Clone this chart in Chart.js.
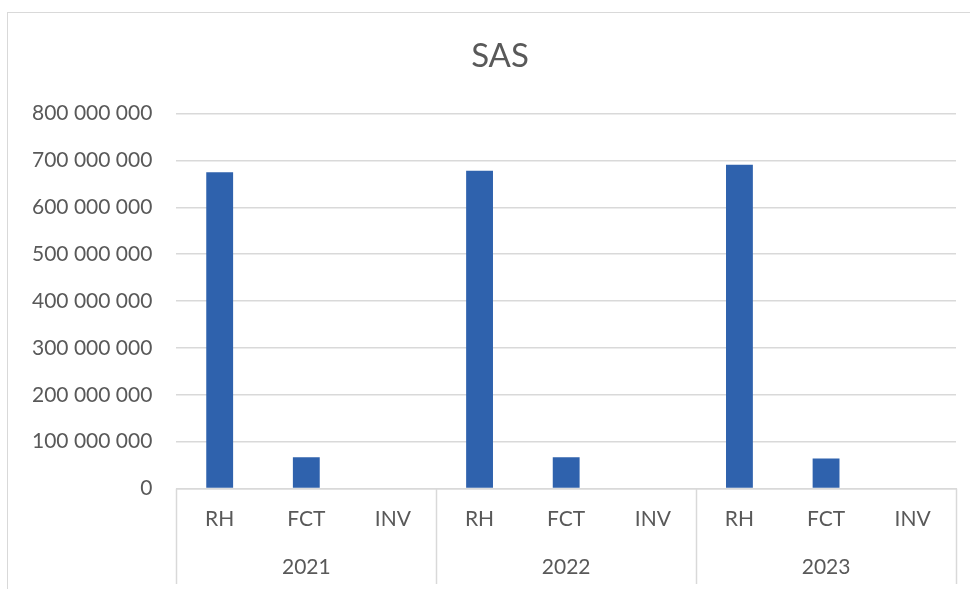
<!DOCTYPE html>
<html>
<head>
<meta charset="utf-8">
<script src="https://cdn.jsdelivr.net/npm/chart.js"></script>
<style>
  html, body { margin: 0; padding: 0; background: #fff; }
  #wrap { position: relative; width: 970px; height: 589px; overflow: hidden; }
  #frame { position: absolute; left: 7px; top: 12px; width: 1000px; height: 1000px; border: 1px solid #d9d9d9; }
  #Chart { position: absolute; left: 0; top: 0; }
</style>
</head>
<body>
<div id="wrap">
  <div id="frame"></div>
  <canvas id="Chart" width="970" height="589"></canvas>
</div>
<script>
const chartCanvas = document.getElementById('Chart');
const ctx = chartCanvas.getContext('2d');

// données
const years = ['2021', '2022', '2023'];
const postes = ['RH', 'FCT', 'INV'];
const valeurs = [
  675000000, 67000000, 0,
  678000000, 67000000, 0,
  691000000, 64000000, 0
];
const yTicks = [0, 100000000, 200000000, 300000000, 400000000, 500000000, 600000000, 700000000, 800000000];

const labels = [];
years.forEach(() => postes.forEach(p => labels.push(p)));

const fontFamily = 'Lato, "Open Sans", sans-serif';
const textColor = '#595959';
const gridColor = '#d9d9d9';

function formatNombre(v) {
  return String(v).replace(/\B(?=(\d{3})+(?!\d))/g, ' ');
}

// traits verticaux entre les années (axe à deux niveaux)
const separateurs = {
  id: 'separateurs',
  afterLayout(chart) {
    // le titre est centré sur le cadre du graphique, pas sur la zone de tracé
    if (chart.titleBlock) chart.titleBlock.right += 36;
  },
  afterDraw(chart) {
    const x = chart.scales.x;
    const x2 = chart.scales.x2;
    const half = (x.getPixelForValue(1) - x.getPixelForValue(0)) / 2;
    const c = chart.ctx;
    c.save();
    c.strokeStyle = gridColor;
    c.lineWidth = 1.5;
    for (let g = 0; g <= years.length; g++) {
      const px = Math.round(x.getPixelForValue(g * postes.length) - half) + 0.5;
      c.beginPath();
      c.moveTo(px, chart.chartArea.bottom);
      c.lineTo(px, x2.bottom + 1);
      c.stroke();
    }
    c.restore();
  }
};

const chart = new Chart(ctx, {
  type: 'bar',
  data: {
    labels: labels,
    datasets: [{
      label: 'SAS',
      data: valeurs,
      backgroundColor: '#2f62ad',
      barPercentage: 0.31,
      categoryPercentage: 1
    }]
  },
  options: {
    responsive: false,
    animation: false,
    layout: { padding: { left: 8, right: 14, top: 30, bottom: 6 } },
    plugins: {
      legend: { display: false },
      tooltip: { enabled: false },
      title: {
        display: true,
        text: 'SAS',
        color: textColor,
        font: { family: fontFamily, size: 33, weight: 'normal' },
        padding: { top: 7, bottom: 37 }
      }
    },
    scales: {
      y: {
        min: 0,
        max: 800000000,
        afterBuildTicks: axis => { axis.ticks = yTicks.map(v => ({ value: v })); },
        border: { display: false },
        grid: { color: gridColor, lineWidth: 1.5, drawTicks: false },
        ticks: {
          color: textColor,
          padding: 24,
          font: { family: fontFamily, size: 21 },
          callback: v => formatNombre(v)
        }
      },
      x: {
        offset: true,
        border: { color: gridColor, width: 1.5 },
        grid: { display: false, drawTicks: false },
        ticks: {
          color: textColor,
          padding: 18.5,
          font: { family: fontFamily, size: 21 },
          maxRotation: 0
        }
      },
      x2: {
        type: 'category',
        position: 'bottom',
        labels: years,
        offset: true,
        border: { display: false },
        grid: { display: false, drawTicks: false },
        ticks: {
          color: textColor,
          padding: 3.5,
          font: { family: fontFamily, size: 21 },
          maxRotation: 0
        }
      }
    }
  },
  plugins: [separateurs]
});
</script>
</body>
</html>
